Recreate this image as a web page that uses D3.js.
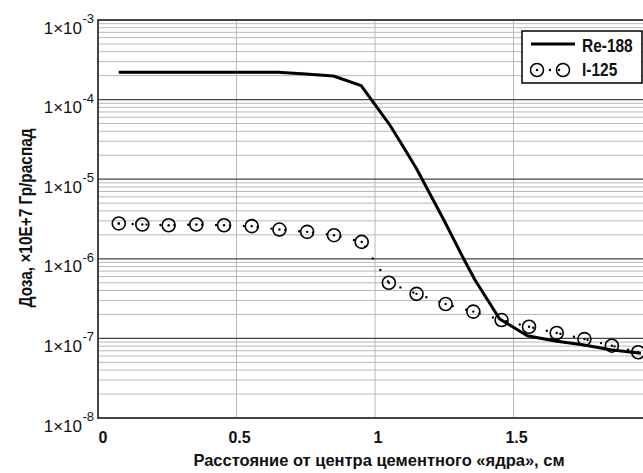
<!DOCTYPE html>
<html>
<head>
<meta charset="utf-8">
<script src="https://cdn.jsdelivr.net/npm/d3@7"></script>
<style>
  body { margin: 0; background: #fff; }
  svg { display: block; }
  .bold { font-family: "Liberation Sans", Arial, sans-serif; font-weight: bold; }
  .reg { font-family: "Liberation Sans", Arial, sans-serif; }
</style>
</head>
<body>
<svg width="643" height="473"></svg>
<script>
// Re-188 dose curve (solid line)
const reX = [0.075, 0.65, 0.75, 0.85, 0.95, 1.05, 1.09, 1.15, 1.25, 1.32, 1.36, 1.45, 1.55, 1.65, 1.75, 1.85, 1.96];
const reY = [2.2e-4, 2.2e-4, 2.1e-4, 1.98e-4, 1.5e-4, 5.0e-5, 3.0e-5, 1.35e-5, 3.0e-6, 1.0e-6, 5.5e-7, 1.75e-7, 1.08e-7, 9.3e-8, 8.3e-8, 7.2e-8, 6.5e-8];

// I-125 dose points (circles, dotted line)
const iX = [0.075, 0.16, 0.255, 0.355, 0.455, 0.555, 0.655, 0.755, 0.852, 0.952, 1.05, 1.15, 1.255, 1.355, 1.457, 1.556, 1.656, 1.756, 1.855, 1.95];
const iY = [2.78e-6, 2.7e-6, 2.64e-6, 2.7e-6, 2.64e-6, 2.57e-6, 2.33e-6, 2.18e-6, 1.98e-6, 1.63e-6, 5.0e-7, 3.63e-7, 2.7e-7, 2.17e-7, 1.7e-7, 1.4e-7, 1.17e-7, 9.8e-8, 8.1e-8, 6.7e-8];

const xTicks = [0, 0.5, 1, 1.5];
const xTickLabels = ["0", "0.5", "1", "1.5"];
const yDecades = [-3, -4, -5, -6, -7, -8];

const seriesNames = ["Re-188", "I-125"];
const xTitle = "Расстояние от центра цементного «ядра», см";
const yTitle = "Доза, ×10E+7 Гр/распад";

const svg = d3.select("svg");
const margin = { left: 98, top: 20, bottom: 418 };

const x = d3.scaleLinear().domain([0, 2]).range([margin.left, 652]);
const y = d3.scaleLog().domain([1e-8, 1e-3]).range([margin.bottom, margin.top]);

// minor grid
const minor = [];
for (let e = -8; e < -3; e++) {
    for (let m = 2; m <= 9; m++) minor.push(m * Math.pow(10, e));
}
svg.append("g").selectAll("line")
    .data(minor)
    .join("line")
    .attr("x1", x(0)).attr("x2", 643)
    .attr("y1", d => y(d)).attr("y2", d => y(d))
    .attr("stroke", "#b8b8b8").attr("stroke-width", 1);

// vertical grid
svg.append("g").selectAll("line")
    .data(xTicks.filter(d => d > 0))
    .join("line")
    .attr("x1", d => x(d)).attr("x2", d => x(d))
    .attr("y1", margin.top).attr("y2", margin.bottom)
    .attr("stroke", "#b8b8b8").attr("stroke-width", 1);

// decade lines
svg.append("g").selectAll("line")
    .data(yDecades)
    .join("line")
    .attr("x1", x(0)).attr("x2", 643)
    .attr("y1", d => y(Math.pow(10, d))).attr("y2", d => y(Math.pow(10, d)))
    .attr("stroke", "#444").attr("stroke-width", d => (d === -3 || d === -8) ? 2 : 1.2);

// left axis line
svg.append("line")
    .attr("x1", x(0)).attr("x2", x(0))
    .attr("y1", margin.top - 1).attr("y2", margin.bottom + 1)
    .attr("stroke", "#444").attr("stroke-width", 2);

// y tick labels 1×10^n
const yl = svg.append("g").selectAll("text")
    .data(yDecades)
    .join("text")
    .attr("class", "reg")
    .attr("x", 82)
    .attr("y", d => y(Math.pow(10, d)) + 13.5)
    .attr("text-anchor", "end")
    .attr("font-size", 17)
    .attr("fill", "#111");
yl.append("tspan").text("1×10");
yl.append("tspan")
    .attr("x", 82.5)
    .attr("dy", -10.5)
    .attr("text-anchor", "start")
    .attr("font-size", 13)
    .text(d => String(d));

// x tick labels
svg.append("g").selectAll("text")
    .data(xTicks)
    .join("text")
    .attr("class", "bold")
    .attr("x", (d, i) => x(d) + (i === 0 ? 5 : 3))
    .attr("y", 443)
    .attr("text-anchor", "middle")
    .attr("font-size", 16)
    .attr("fill", "#111")
    .text((d, i) => xTickLabels[i]);

// axis titles
svg.append("text")
    .attr("class", "bold")
    .attr("x", 379).attr("y", 466)
    .attr("text-anchor", "middle")
    .attr("font-size", 16.5)
    .attr("fill", "#111")
    .text(xTitle);

svg.append("text")
    .attr("class", "bold")
    .attr("transform", "translate(32,218) rotate(-90) scale(0.88,1)")
    .attr("text-anchor", "middle")
    .attr("font-size", 17.5)
    .attr("fill", "#111")
    .text(yTitle);

// I-125 dotted line
const iData = iX.map((d, i) => [d, iY[i]]);
svg.append("path")
    .datum(iData)
    .attr("fill", "none")
    .attr("stroke", "#000")
    .attr("stroke-width", 2.4)
    .attr("stroke-linecap", "round")
    .attr("stroke-dasharray", "0,13.9")
    .attr("d", d3.line().x(d => x(d[0])).y(d => y(d[1])));

svg.append("g").selectAll("circle")
    .data(iData)
    .join("circle")
    .attr("cx", d => x(d[0])).attr("cy", d => y(d[1]))
    .attr("r", 6.5)
    .attr("fill", "none")
    .attr("stroke", "#000")
    .attr("stroke-width", 1.6);

svg.append("g").selectAll("circle")
    .data(iData)
    .join("circle")
    .attr("cx", d => x(d[0])).attr("cy", d => y(d[1]))
    .attr("r", 1.2)
    .attr("fill", "#000");

// Re-188 line
const reData = reX.map((d, i) => [d, reY[i]]);
svg.append("path")
    .datum(reData)
    .attr("fill", "none")
    .attr("stroke", "#000")
    .attr("stroke-width", 3)
    .attr("stroke-linejoin", "round")
    .attr("d", d3.line().x(d => x(d[0])).y(d => y(d[1])));

// legend
const lg = svg.append("g").attr("transform", "translate(522,31)");
lg.append("rect")
    .attr("width", 120).attr("height", 52)
    .attr("fill", "#fff").attr("stroke", "#000").attr("stroke-width", 1.5);
lg.append("line")
    .attr("x1", 9).attr("x2", 53).attr("y1", 13).attr("y2", 13)
    .attr("stroke", "#000").attr("stroke-width", 3);
lg.append("circle").attr("cx", 15).attr("cy", 39).attr("r", 6.5)
    .attr("fill", "none").attr("stroke", "#000").attr("stroke-width", 1.5);
lg.append("circle").attr("cx", 15).attr("cy", 39).attr("r", 1.2).attr("fill", "#000");
lg.append("circle").attr("cx", 28).attr("cy", 39).attr("r", 1.2).attr("fill", "#000");
lg.append("circle").attr("cx", 41).attr("cy", 39).attr("r", 6.5)
    .attr("fill", "none").attr("stroke", "#000").attr("stroke-width", 1.5);
lg.append("circle").attr("cx", 37).attr("cy", 39).attr("r", 1.2).attr("fill", "#000");
lg.selectAll("text.lt")
    .data(seriesNames)
    .join("text")
    .attr("class", "bold lt")
    .attr("transform", (d, i) => `translate(60,${21 + i * 23.5}) scale(0.86,1)`)
    .attr("font-size", 18)
    .attr("fill", "#111")
    .text(d => d);
</script>
</body>
</html>
